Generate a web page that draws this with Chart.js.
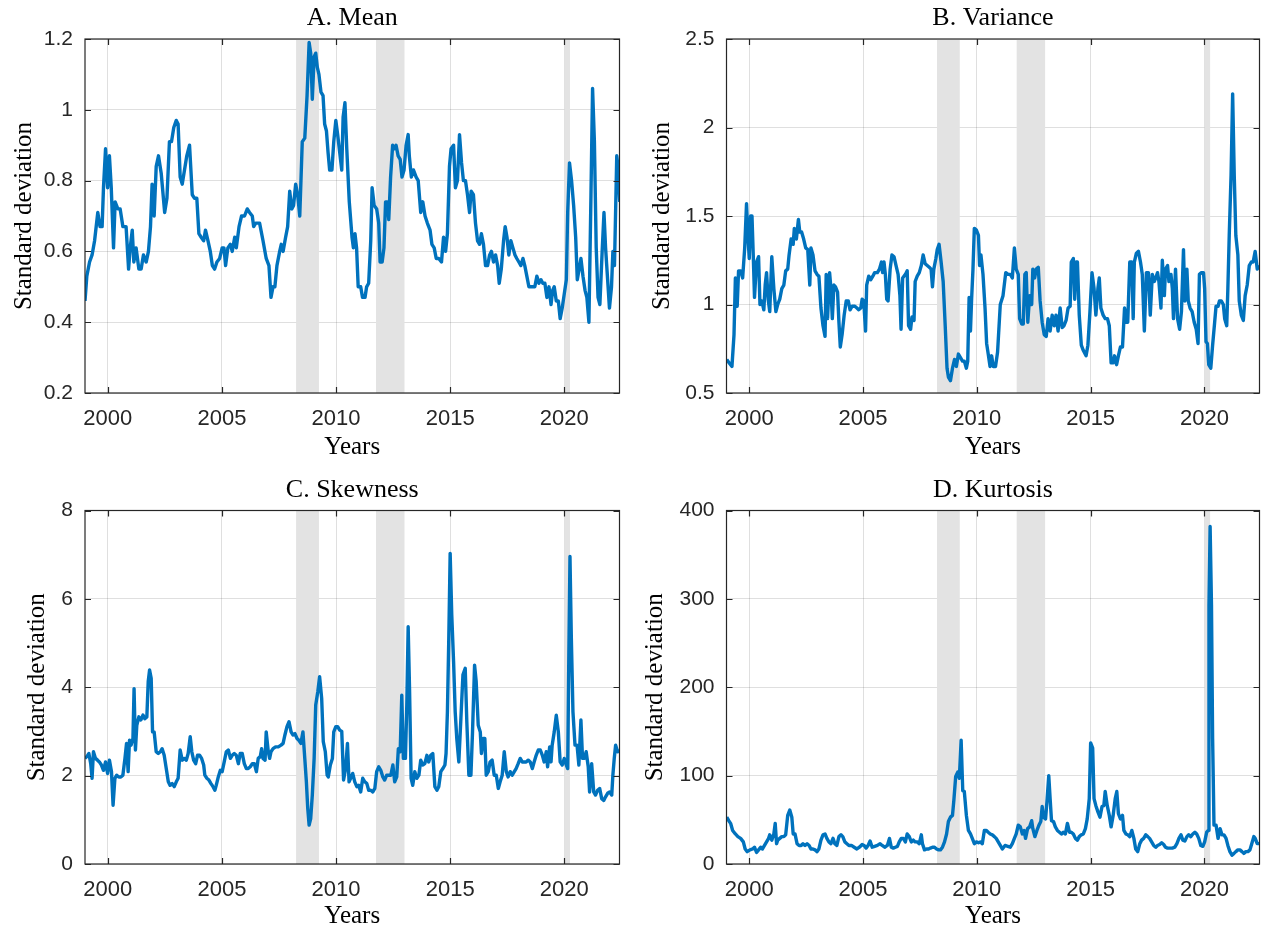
<!DOCTYPE html>
<html>
<head>
<meta charset="utf-8">
<title>Moments</title>
<script src="https://cdn.jsdelivr.net/npm/chart.js@4.4.1/dist/chart.umd.min.js"></script>
<style>
  body { margin: 0; background: #fff; }
  #fig { position: relative; width: 1261px; height: 932px; background: #fff; }
  #fig canvas { position: absolute; }
</style>
</head>
<body>
<div id="fig">
  <canvas id="chartA" width="630" height="466" style="left:0;top:0"></canvas>
  <canvas id="chartB" width="631" height="466" style="left:630px;top:0"></canvas>
  <canvas id="chartC" width="630" height="466" style="left:0;top:466px"></canvas>
  <canvas id="chartD" width="631" height="466" style="left:630px;top:466px"></canvas>
</div>
<script>
// shared axis data
const yearTicks = [2000, 2005, 2010, 2015, 2020];
const recessionStart = [2008.25, 2011.75, 2020.0];
const recessionEnd = [2009.25, 2013.0, 2020.25];

// A. Mean
const meanTicks = [0.2, 0.4, 0.6, 0.8, 1, 1.2];
const meanYears = [1999.0, 1999.08, 1999.2, 1999.31, 1999.42, 1999.56, 1999.66, 1999.75, 1999.81, 1999.9, 1999.99, 2000.07, 2000.15, 2000.25, 2000.32, 2000.44, 2000.54, 2000.66, 2000.8, 2000.91, 2000.98, 2001.07, 2001.14, 2001.24, 2001.36, 2001.46, 2001.56, 2001.68, 2001.78, 2001.87, 2001.94, 2002.03, 2002.12, 2002.22, 2002.34, 2002.49, 2002.59, 2002.7, 2002.79, 2002.89, 2003.0, 2003.08, 2003.17, 2003.26, 2003.36, 2003.46, 2003.58, 2003.7, 2003.8, 2003.9, 2003.99, 2004.09, 2004.2, 2004.28, 2004.39, 2004.49, 2004.58, 2004.68, 2004.78, 2004.9, 2005.01, 2005.09, 2005.16, 2005.26, 2005.37, 2005.45, 2005.56, 2005.63, 2005.75, 2005.86, 2005.99, 2006.11, 2006.21, 2006.33, 2006.39, 2006.48, 2006.65, 2006.8, 2006.94, 2007.06, 2007.15, 2007.24, 2007.32, 2007.41, 2007.53, 2007.6, 2007.68, 2007.79, 2007.88, 2007.97, 2008.06, 2008.14, 2008.23, 2008.32, 2008.41, 2008.52, 2008.63, 2008.73, 2008.82, 2008.89, 2008.96, 2009.04, 2009.11, 2009.18, 2009.25, 2009.34, 2009.43, 2009.5, 2009.58, 2009.65, 2009.72, 2009.82, 2009.9, 2009.99, 2010.07, 2010.16, 2010.25, 2010.31, 2010.39, 2010.47, 2010.58, 2010.7, 2010.76, 2010.83, 2010.9, 2010.97, 2011.08, 2011.16, 2011.27, 2011.34, 2011.43, 2011.52, 2011.58, 2011.67, 2011.78, 2011.87, 2011.93, 2012.02, 2012.1, 2012.17, 2012.25, 2012.31, 2012.39, 2012.48, 2012.56, 2012.63, 2012.72, 2012.81, 2012.89, 2012.98, 2013.07, 2013.16, 2013.21, 2013.3, 2013.39, 2013.51, 2013.6, 2013.71, 2013.8, 2013.9, 2014.0, 2014.12, 2014.2, 2014.3, 2014.39, 2014.5, 2014.62, 2014.71, 2014.8, 2014.88, 2014.97, 2015.04, 2015.15, 2015.23, 2015.32, 2015.41, 2015.5, 2015.58, 2015.67, 2015.76, 2015.85, 2015.92, 2016.02, 2016.11, 2016.2, 2016.29, 2016.37, 2016.46, 2016.55, 2016.64, 2016.73, 2016.81, 2016.9, 2016.99, 2017.08, 2017.15, 2017.24, 2017.34, 2017.41, 2017.49, 2017.57, 2017.66, 2017.75, 2017.84, 2017.92, 2018.01, 2018.1, 2018.19, 2018.27, 2018.36, 2018.45, 2018.54, 2018.63, 2018.71, 2018.8, 2018.89, 2018.98, 2019.06, 2019.15, 2019.24, 2019.33, 2019.42, 2019.49, 2019.56, 2019.65, 2019.74, 2019.82, 2019.91, 2020.0, 2020.09, 2020.15, 2020.23, 2020.32, 2020.41, 2020.5, 2020.57, 2020.65, 2020.73, 2020.82, 2020.91, 2020.99, 2021.08, 2021.17, 2021.24, 2021.32, 2021.4, 2021.48, 2021.56, 2021.66, 2021.74, 2021.81, 2021.9, 2021.98, 2022.07, 2022.13, 2022.2, 2022.3, 2022.37, 2022.43];
const meanValues = [0.46, 0.53, 0.57, 0.59, 0.63, 0.71, 0.67, 0.67, 0.78, 0.89, 0.78, 0.87, 0.78, 0.61, 0.74, 0.72, 0.72, 0.67, 0.67, 0.55, 0.61, 0.66, 0.57, 0.61, 0.55, 0.55, 0.59, 0.57, 0.6, 0.67, 0.79, 0.7, 0.84, 0.87, 0.82, 0.71, 0.75, 0.91, 0.91, 0.95, 0.97, 0.96, 0.81, 0.79, 0.83, 0.87, 0.9, 0.76, 0.75, 0.75, 0.65, 0.64, 0.63, 0.66, 0.63, 0.6, 0.56, 0.55, 0.57, 0.58, 0.61, 0.61, 0.56, 0.61, 0.62, 0.6, 0.64, 0.61, 0.67, 0.7, 0.7, 0.72, 0.71, 0.7, 0.67, 0.68, 0.68, 0.63, 0.58, 0.56, 0.47, 0.5, 0.5, 0.56, 0.6, 0.62, 0.6, 0.64, 0.67, 0.77, 0.72, 0.73, 0.79, 0.76, 0.7, 0.91, 0.92, 1.04, 1.19, 1.16, 1.03, 1.15, 1.16, 1.12, 1.1, 1.05, 1.04, 0.96, 0.94, 0.88, 0.83, 0.83, 0.91, 0.97, 0.93, 0.88, 0.83, 0.98, 1.02, 0.89, 0.74, 0.64, 0.61, 0.65, 0.61, 0.5, 0.5, 0.47, 0.47, 0.5, 0.51, 0.63, 0.78, 0.73, 0.72, 0.68, 0.57, 0.57, 0.61, 0.74, 0.74, 0.69, 0.81, 0.9, 0.89, 0.9, 0.87, 0.86, 0.81, 0.83, 0.9, 0.93, 0.87, 0.81, 0.83, 0.81, 0.8, 0.71, 0.74, 0.7, 0.68, 0.66, 0.62, 0.61, 0.58, 0.58, 0.57, 0.64, 0.6, 0.65, 0.84, 0.89, 0.9, 0.78, 0.8, 0.93, 0.85, 0.8, 0.8, 0.76, 0.71, 0.77, 0.76, 0.68, 0.63, 0.62, 0.65, 0.62, 0.56, 0.56, 0.59, 0.6, 0.57, 0.59, 0.56, 0.51, 0.55, 0.63, 0.67, 0.64, 0.59, 0.63, 0.61, 0.59, 0.58, 0.57, 0.56, 0.58, 0.56, 0.53, 0.5, 0.5, 0.5, 0.5, 0.53, 0.51, 0.52, 0.51, 0.51, 0.47, 0.5, 0.45, 0.49, 0.5, 0.46, 0.46, 0.41, 0.44, 0.48, 0.52, 0.71, 0.85, 0.8, 0.73, 0.64, 0.52, 0.55, 0.58, 0.53, 0.49, 0.47, 0.4, 0.76, 1.06, 0.91, 0.61, 0.47, 0.45, 0.6, 0.71, 0.61, 0.52, 0.44, 0.5, 0.6, 0.56, 0.87, 0.83, 0.74];

// B. Variance
const varianceTicks = [0.5, 1, 1.5, 2, 2.5];
const varianceYears = [1999.01, 1999.12, 1999.24, 1999.33, 1999.39, 1999.47, 1999.53, 1999.62, 1999.71, 1999.8, 1999.88, 1999.94, 2000.0, 2000.06, 2000.12, 2000.18, 2000.23, 2000.32, 2000.41, 2000.47, 2000.55, 2000.64, 2000.7, 2000.76, 2000.83, 2000.9, 2000.99, 2001.08, 2001.17, 2001.25, 2001.34, 2001.43, 2001.52, 2001.6, 2001.69, 2001.75, 2001.84, 2001.93, 2001.98, 2002.07, 2002.16, 2002.22, 2002.3, 2002.39, 2002.48, 2002.57, 2002.66, 2002.71, 2002.8, 2002.89, 2002.98, 2003.06, 2003.15, 2003.24, 2003.33, 2003.38, 2003.44, 2003.53, 2003.59, 2003.65, 2003.72, 2003.79, 2003.88, 2003.94, 2004.0, 2004.08, 2004.17, 2004.26, 2004.35, 2004.43, 2004.52, 2004.64, 2004.73, 2004.81, 2004.9, 2004.96, 2005.03, 2005.11, 2005.16, 2005.25, 2005.34, 2005.43, 2005.51, 2005.63, 2005.72, 2005.81, 2005.86, 2005.92, 2005.98, 2006.04, 2006.1, 2006.19, 2006.27, 2006.36, 2006.45, 2006.54, 2006.62, 2006.67, 2006.74, 2006.86, 2006.94, 2007.0, 2007.09, 2007.15, 2007.24, 2007.29, 2007.38, 2007.47, 2007.56, 2007.64, 2007.73, 2007.82, 2007.91, 2007.99, 2008.05, 2008.11, 2008.2, 2008.26, 2008.34, 2008.43, 2008.52, 2008.61, 2008.69, 2008.75, 2008.84, 2008.93, 2009.02, 2009.1, 2009.19, 2009.28, 2009.37, 2009.45, 2009.54, 2009.6, 2009.66, 2009.72, 2009.77, 2009.83, 2009.89, 2009.98, 2010.07, 2010.12, 2010.18, 2010.27, 2010.36, 2010.43, 2010.5, 2010.58, 2010.65, 2010.72, 2010.82, 2010.91, 2011.03, 2011.15, 2011.27, 2011.37, 2011.47, 2011.56, 2011.65, 2011.73, 2011.82, 2011.88, 2011.97, 2012.04, 2012.11, 2012.17, 2012.24, 2012.32, 2012.41, 2012.46, 2012.54, 2012.61, 2012.7, 2012.78, 2012.87, 2012.96, 2013.05, 2013.13, 2013.22, 2013.31, 2013.4, 2013.48, 2013.57, 2013.66, 2013.75, 2013.83, 2013.92, 2014.01, 2014.1, 2014.15, 2014.24, 2014.3, 2014.36, 2014.42, 2014.5, 2014.59, 2014.68, 2014.8, 2014.88, 2014.97, 2015.06, 2015.15, 2015.23, 2015.32, 2015.38, 2015.45, 2015.55, 2015.64, 2015.74, 2015.82, 2015.9, 2015.99, 2016.05, 2016.14, 2016.22, 2016.31, 2016.4, 2016.49, 2016.57, 2016.63, 2016.72, 2016.81, 2016.87, 2016.92, 2017.01, 2017.1, 2017.19, 2017.27, 2017.36, 2017.45, 2017.54, 2017.62, 2017.71, 2017.8, 2017.86, 2017.94, 2018.0, 2018.09, 2018.15, 2018.24, 2018.29, 2018.38, 2018.44, 2018.53, 2018.59, 2018.64, 2018.73, 2018.82, 2018.91, 2018.99, 2019.08, 2019.14, 2019.23, 2019.29, 2019.37, 2019.46, 2019.55, 2019.64, 2019.72, 2019.78, 2019.87, 2019.96, 2020.01, 2020.07, 2020.13, 2020.19, 2020.28, 2020.36, 2020.45, 2020.51, 2020.6, 2020.66, 2020.74, 2020.83, 2020.89, 2020.98, 2021.03, 2021.09, 2021.17, 2021.24, 2021.31, 2021.38, 2021.47, 2021.53, 2021.62, 2021.71, 2021.79, 2021.88, 2021.97, 2022.06, 2022.14, 2022.23, 2022.32, 2022.42];
const varianceValues = [0.69, 0.67, 0.65, 0.83, 1.15, 0.99, 1.19, 1.19, 1.15, 1.32, 1.57, 1.39, 1.26, 1.5, 1.5, 1.26, 1.04, 1.24, 1.27, 1.0, 1.02, 0.97, 1.11, 1.18, 1.03, 0.96, 1.27, 1.09, 0.96, 1.0, 1.03, 1.09, 1.11, 1.19, 1.2, 1.28, 1.37, 1.34, 1.43, 1.37, 1.48, 1.41, 1.41, 1.37, 1.32, 1.31, 1.11, 1.32, 1.28, 1.19, 1.17, 1.16, 0.98, 0.88, 0.82, 1.17, 0.92, 1.18, 1.09, 0.92, 1.11, 1.1, 1.07, 0.9, 0.76, 0.83, 0.94, 1.02, 1.02, 0.97, 0.99, 0.99, 0.98, 0.97, 0.98, 1.03, 1.02, 0.85, 1.11, 1.16, 1.14, 1.16, 1.18, 1.18, 1.2, 1.24, 1.18, 1.24, 1.17, 1.03, 1.02, 1.2, 1.28, 1.27, 1.22, 1.17, 1.05, 0.86, 1.15, 1.17, 1.19, 0.88, 0.86, 0.93, 0.91, 1.13, 1.16, 1.18, 1.22, 1.28, 1.23, 1.22, 1.21, 1.2, 1.1, 1.2, 1.26, 1.31, 1.34, 1.24, 1.13, 0.88, 0.64, 0.59, 0.57, 0.64, 0.69, 0.65, 0.72, 0.7, 0.68, 0.68, 0.64, 0.68, 1.04, 0.85, 1.03, 1.2, 1.43, 1.42, 1.39, 1.22, 1.28, 1.17, 0.98, 0.78, 0.72, 0.65, 0.71, 0.65, 0.65, 0.73, 1.0, 1.05, 1.18, 1.17, 1.17, 1.15, 1.32, 1.2, 1.17, 0.92, 0.89, 0.89, 1.17, 1.18, 0.9, 1.05, 1.0, 1.2, 1.15, 1.2, 1.21, 1.02, 0.9, 0.83, 0.82, 0.92, 0.85, 0.94, 0.88, 0.94, 0.85, 0.98, 0.87, 0.88, 0.91, 0.98, 0.99, 1.24, 1.26, 1.03, 1.24, 1.24, 0.94, 0.77, 0.74, 0.71, 0.77, 0.96, 1.18, 1.09, 0.94, 1.09, 1.15, 0.98, 0.94, 0.92, 0.92, 0.88, 0.67, 0.67, 0.71, 0.66, 0.71, 0.76, 0.76, 0.98, 0.9, 0.9, 1.24, 1.24, 0.92, 1.24, 1.29, 1.3, 1.24, 1.17, 0.85, 1.18, 1.18, 0.94, 1.17, 1.13, 1.15, 1.18, 1.13, 0.98, 1.25, 1.05, 1.2, 1.22, 1.13, 1.17, 1.09, 0.92, 1.2, 0.92, 0.86, 0.96, 1.31, 1.02, 1.2, 1.02, 0.98, 0.96, 0.9, 0.86, 0.78, 1.17, 1.18, 1.18, 1.09, 0.79, 0.78, 0.66, 0.64, 0.77, 0.9, 0.99, 0.99, 1.02, 1.02, 1.0, 0.92, 0.88, 1.09, 1.39, 1.73, 2.19, 1.73, 1.39, 1.28, 1.02, 0.94, 0.91, 1.05, 1.11, 1.22, 1.24, 1.24, 1.3, 1.2, 1.22];

// C. Skewness
const skewTicks = [0, 2, 4, 6, 8];
const skewYears = [1999.0, 1999.08, 1999.17, 1999.25, 1999.31, 1999.37, 1999.46, 1999.55, 1999.63, 1999.72, 1999.81, 1999.9, 1999.99, 2000.07, 2000.16, 2000.23, 2000.31, 2000.39, 2000.48, 2000.57, 2000.66, 2000.75, 2000.82, 2000.89, 2000.95, 2001.02, 2001.1, 2001.15, 2001.21, 2001.27, 2001.36, 2001.45, 2001.54, 2001.62, 2001.71, 2001.77, 2001.83, 2001.9, 2001.96, 2002.03, 2002.12, 2002.21, 2002.3, 2002.38, 2002.47, 2002.56, 2002.65, 2002.73, 2002.82, 2002.91, 2003.0, 2003.08, 2003.17, 2003.26, 2003.35, 2003.44, 2003.52, 2003.61, 2003.68, 2003.76, 2003.85, 2003.93, 2004.02, 2004.11, 2004.2, 2004.25, 2004.34, 2004.43, 2004.52, 2004.61, 2004.69, 2004.75, 2004.84, 2004.93, 2005.01, 2005.1, 2005.19, 2005.28, 2005.37, 2005.45, 2005.54, 2005.63, 2005.72, 2005.8, 2005.89, 2005.98, 2006.07, 2006.15, 2006.24, 2006.33, 2006.42, 2006.51, 2006.59, 2006.68, 2006.74, 2006.8, 2006.89, 2006.94, 2007.03, 2007.09, 2007.15, 2007.24, 2007.35, 2007.47, 2007.59, 2007.68, 2007.76, 2007.85, 2007.94, 2008.03, 2008.11, 2008.2, 2008.29, 2008.37, 2008.46, 2008.55, 2008.63, 2008.7, 2008.76, 2008.82, 2008.89, 2008.96, 2009.04, 2009.11, 2009.2, 2009.28, 2009.37, 2009.44, 2009.53, 2009.61, 2009.66, 2009.75, 2009.84, 2009.9, 2009.99, 2010.07, 2010.16, 2010.25, 2010.33, 2010.42, 2010.5, 2010.57, 2010.64, 2010.73, 2010.82, 2010.91, 2010.99, 2011.08, 2011.17, 2011.26, 2011.35, 2011.43, 2011.52, 2011.61, 2011.7, 2011.78, 2011.87, 2011.96, 2012.05, 2012.13, 2012.22, 2012.31, 2012.4, 2012.49, 2012.57, 2012.66, 2012.73, 2012.81, 2012.88, 2012.95, 2013.04, 2013.1, 2013.16, 2013.22, 2013.29, 2013.36, 2013.45, 2013.54, 2013.63, 2013.71, 2013.8, 2013.89, 2013.98, 2014.06, 2014.15, 2014.24, 2014.33, 2014.42, 2014.5, 2014.59, 2014.68, 2014.77, 2014.82, 2014.88, 2014.94, 2015.0, 2015.07, 2015.15, 2015.22, 2015.29, 2015.38, 2015.47, 2015.56, 2015.66, 2015.73, 2015.82, 2015.91, 2015.98, 2016.07, 2016.14, 2016.23, 2016.32, 2016.37, 2016.46, 2016.52, 2016.58, 2016.67, 2016.75, 2016.84, 2016.93, 2017.02, 2017.11, 2017.19, 2017.28, 2017.37, 2017.46, 2017.54, 2017.63, 2017.72, 2017.81, 2017.89, 2017.98, 2018.07, 2018.16, 2018.25, 2018.33, 2018.42, 2018.51, 2018.6, 2018.68, 2018.77, 2018.86, 2018.95, 2019.04, 2019.12, 2019.21, 2019.27, 2019.36, 2019.42, 2019.47, 2019.56, 2019.65, 2019.74, 2019.82, 2019.91, 2020.0, 2020.09, 2020.15, 2020.2, 2020.25, 2020.31, 2020.38, 2020.47, 2020.56, 2020.64, 2020.73, 2020.8, 2020.88, 2020.96, 2021.05, 2021.11, 2021.2, 2021.29, 2021.37, 2021.46, 2021.55, 2021.64, 2021.73, 2021.81, 2021.9, 2021.99, 2022.08, 2022.13, 2022.19, 2022.25, 2022.34, 2022.42];
const skewValues = [2.39, 2.43, 2.5, 2.27, 1.94, 2.54, 2.39, 2.35, 2.31, 2.24, 2.12, 2.31, 2.05, 2.35, 2.09, 1.33, 1.94, 2.01, 1.97, 1.97, 2.01, 2.39, 2.73, 2.09, 2.8, 2.69, 2.84, 3.97, 2.58, 3.14, 3.33, 3.26, 3.37, 3.29, 3.33, 4.13, 4.39, 4.2, 2.99, 2.99, 2.54, 2.5, 2.54, 2.61, 2.46, 2.16, 1.86, 1.78, 1.82, 1.75, 1.86, 1.94, 2.58, 2.35, 2.39, 2.35, 2.5, 2.88, 2.54, 2.35, 2.27, 2.46, 2.46, 2.39, 2.24, 2.01, 1.94, 1.9, 1.82, 1.75, 1.67, 1.78, 1.97, 2.12, 2.09, 2.31, 2.54, 2.58, 2.39, 2.46, 2.5, 2.46, 2.27, 2.5, 2.5, 2.27, 2.16, 2.16, 2.2, 2.27, 2.27, 2.09, 2.39, 2.43, 2.61, 2.39, 2.35, 2.99, 2.54, 2.39, 2.54, 2.61, 2.65, 2.65, 2.69, 2.73, 2.92, 3.11, 3.22, 2.99, 2.92, 2.95, 2.84, 2.8, 2.73, 2.99, 2.39, 1.86, 1.26, 0.88, 1.03, 1.56, 2.39, 3.6, 3.9, 4.24, 3.75, 2.77, 2.54, 2.01, 1.97, 2.24, 2.39, 2.99, 3.11, 3.11, 3.03, 3.0, 1.9, 2.16, 2.73, 1.86, 1.94, 2.05, 1.86, 1.75, 1.78, 1.63, 1.94, 1.86, 1.82, 1.67, 1.67, 1.63, 1.71, 2.09, 2.2, 2.12, 1.97, 1.9, 2.01, 2.01, 2.01, 2.24, 1.86, 1.97, 2.61, 2.54, 3.82, 2.39, 2.39, 3.6, 5.37, 3.97, 1.94, 1.78, 2.09, 1.94, 2.01, 2.35, 2.24, 2.27, 2.46, 2.31, 2.46, 2.5, 1.75, 1.67, 1.75, 2.09, 2.16, 2.24, 2.5, 3.45, 5.11, 7.03, 5.64, 4.58, 3.45, 2.84, 2.31, 3.29, 4.28, 4.43, 3.22, 2.01, 2.01, 2.99, 4.5, 4.13, 3.14, 2.99, 2.5, 2.84, 2.84, 2.01, 2.09, 2.31, 2.35, 2.01, 2.01, 1.71, 1.86, 2.01, 2.54, 2.09, 1.97, 2.09, 2.01, 2.09, 2.16, 2.27, 2.39, 2.31, 2.31, 2.31, 2.35, 2.31, 2.16, 2.31, 2.46, 2.58, 2.58, 2.46, 2.31, 2.54, 2.2, 2.65, 2.31, 2.69, 2.99, 3.37, 2.99, 2.31, 2.24, 2.39, 2.24, 2.16, 4.73, 6.96, 5.11, 3.45, 2.69, 2.69, 2.24, 3.26, 2.39, 2.39, 2.54, 2.2, 1.63, 2.27, 1.63, 1.56, 1.67, 1.71, 1.48, 1.44, 1.52, 1.6, 1.63, 1.56, 2.01, 2.39, 2.69, 2.54, 2.58];

// D. Kurtosis
const kurtTicks = [0, 100, 200, 300, 400];
const kurtYears = [1999.01, 1999.1, 1999.18, 1999.27, 1999.39, 1999.5, 1999.62, 1999.74, 1999.82, 1999.91, 2000.03, 2000.15, 2000.23, 2000.32, 2000.41, 2000.5, 2000.58, 2000.67, 2000.76, 2000.85, 2000.9, 2000.99, 2001.08, 2001.14, 2001.2, 2001.25, 2001.34, 2001.43, 2001.52, 2001.6, 2001.69, 2001.78, 2001.87, 2001.93, 2002.01, 2002.1, 2002.19, 2002.28, 2002.36, 2002.45, 2002.54, 2002.63, 2002.71, 2002.8, 2002.89, 2002.98, 2003.06, 2003.15, 2003.24, 2003.33, 2003.41, 2003.5, 2003.59, 2003.68, 2003.76, 2003.85, 2003.94, 2004.03, 2004.11, 2004.2, 2004.29, 2004.38, 2004.49, 2004.61, 2004.73, 2004.84, 2004.96, 2005.05, 2005.13, 2005.22, 2005.31, 2005.4, 2005.51, 2005.63, 2005.75, 2005.84, 2005.95, 2006.07, 2006.16, 2006.24, 2006.33, 2006.42, 2006.51, 2006.59, 2006.68, 2006.77, 2006.86, 2006.94, 2007.03, 2007.12, 2007.21, 2007.29, 2007.38, 2007.47, 2007.56, 2007.61, 2007.7, 2007.79, 2007.88, 2007.96, 2008.05, 2008.14, 2008.23, 2008.32, 2008.4, 2008.49, 2008.58, 2008.67, 2008.75, 2008.84, 2008.93, 2008.99, 2009.07, 2009.16, 2009.23, 2009.31, 2009.38, 2009.45, 2009.54, 2009.63, 2009.72, 2009.8, 2009.89, 2009.98, 2010.07, 2010.15, 2010.24, 2010.33, 2010.42, 2010.5, 2010.59, 2010.68, 2010.77, 2010.85, 2010.94, 2011.03, 2011.12, 2011.24, 2011.36, 2011.47, 2011.56, 2011.65, 2011.73, 2011.82, 2011.91, 2012.0, 2012.08, 2012.14, 2012.23, 2012.32, 2012.41, 2012.46, 2012.55, 2012.64, 2012.73, 2012.81, 2012.87, 2012.93, 2013.02, 2013.09, 2013.16, 2013.22, 2013.28, 2013.37, 2013.45, 2013.54, 2013.63, 2013.72, 2013.8, 2013.89, 2013.98, 2014.07, 2014.15, 2014.24, 2014.33, 2014.42, 2014.5, 2014.59, 2014.68, 2014.77, 2014.85, 2014.94, 2015.0, 2015.09, 2015.15, 2015.23, 2015.32, 2015.41, 2015.5, 2015.58, 2015.64, 2015.73, 2015.82, 2015.9, 2015.99, 2016.08, 2016.15, 2016.22, 2016.31, 2016.4, 2016.46, 2016.55, 2016.63, 2016.72, 2016.81, 2016.9, 2016.98, 2017.07, 2017.16, 2017.24, 2017.33, 2017.42, 2017.51, 2017.59, 2017.68, 2017.77, 2017.86, 2017.94, 2018.03, 2018.12, 2018.21, 2018.29, 2018.38, 2018.47, 2018.59, 2018.7, 2018.79, 2018.88, 2018.97, 2019.05, 2019.14, 2019.23, 2019.31, 2019.4, 2019.49, 2019.58, 2019.66, 2019.75, 2019.84, 2019.93, 2020.01, 2020.1, 2020.17, 2020.2, 2020.25, 2020.31, 2020.36, 2020.42, 2020.51, 2020.6, 2020.69, 2020.77, 2020.86, 2020.95, 2021.03, 2021.12, 2021.21, 2021.3, 2021.38, 2021.47, 2021.56, 2021.65, 2021.73, 2021.82, 2021.91, 2022.0, 2022.08, 2022.17, 2022.23, 2022.32, 2022.42];
const kurtValues = [53, 49, 46, 38, 34, 31, 29, 25, 17, 14, 16, 17, 19, 13, 16, 19, 17, 21, 25, 29, 33, 27, 34, 46, 23, 27, 29, 31, 31, 33, 55, 61, 53, 34, 34, 23, 21, 21, 23, 21, 23, 21, 17, 17, 16, 14, 17, 27, 33, 34, 29, 25, 23, 29, 23, 21, 31, 33, 31, 25, 23, 21, 21, 19, 17, 19, 22, 21, 18, 21, 26, 19, 20, 21, 23, 21, 19, 21, 29, 19, 18, 19, 20, 25, 29, 29, 25, 34, 31, 25, 27, 25, 25, 23, 33, 23, 16, 17, 17, 18, 19, 19, 17, 16, 16, 19, 25, 34, 48, 53, 55, 72, 99, 104, 97, 140, 83, 82, 55, 38, 34, 29, 23, 25, 24, 25, 23, 38, 38, 36, 34, 33, 31, 29, 25, 21, 17, 21, 20, 19, 23, 29, 34, 44, 42, 34, 38, 29, 40, 42, 49, 40, 31, 38, 44, 48, 65, 53, 51, 74, 100, 74, 49, 48, 42, 38, 36, 34, 36, 34, 46, 36, 36, 34, 29, 27, 31, 33, 34, 40, 51, 74, 137, 131, 74, 66, 59, 53, 65, 66, 82, 66, 55, 42, 55, 74, 82, 57, 51, 55, 38, 34, 33, 31, 38, 29, 17, 14, 23, 27, 29, 33, 31, 29, 25, 21, 19, 21, 22, 24, 22, 19, 18, 18, 18, 19, 23, 29, 33, 27, 26, 31, 33, 31, 34, 36, 34, 29, 21, 20, 25, 36, 38, 293, 382, 293, 142, 44, 44, 29, 40, 33, 33, 29, 21, 14, 10, 12, 14, 16, 16, 14, 12, 14, 14, 16, 23, 31, 29, 23, 23];

const lineColor = '#0072BD';
const axisColor = '#262626';
const serif = '"Liberation Serif", "Times New Roman", serif';
const sans = '"Liberation Sans", Arial, Helvetica, sans-serif';

// grey recession bars behind the line
const recessionBands = {
  id: 'recessionBands',
  beforeDatasetsDraw(chart) {
    const { ctx, chartArea, scales } = chart;
    ctx.save();
    ctx.fillStyle = '#e3e3e3';
    recessionStart.forEach((start, i) => {
      const x1 = Math.max(scales.x.getPixelForValue(start), chartArea.left);
      const x2 = Math.min(scales.x.getPixelForValue(recessionEnd[i]), chartArea.right);
      ctx.fillRect(x1, chartArea.top, x2 - x1, chartArea.bottom - chartArea.top);
    });
    ctx.restore();
  }
};

// matlab style box with inward tick marks on all four sides
const axesBox = {
  id: 'axesBox',
  afterDatasetsDraw(chart) {
    const { ctx, chartArea: a, scales } = chart;
    const len = 6;
    ctx.save();
    ctx.strokeStyle = axisColor;
    ctx.lineWidth = 1.2;
    ctx.beginPath();
    scales.x.ticks.forEach(t => {
      const px = Math.round(scales.x.getPixelForValue(t.value)) + 0.5;
      ctx.moveTo(px, a.bottom); ctx.lineTo(px, a.bottom - len);
      ctx.moveTo(px, a.top); ctx.lineTo(px, a.top + len);
    });
    scales.y.ticks.forEach(t => {
      const py = Math.round(scales.y.getPixelForValue(t.value)) + 0.5;
      ctx.moveTo(a.left, py); ctx.lineTo(a.left + len, py);
      ctx.moveTo(a.right, py); ctx.lineTo(a.right - len, py);
    });
    ctx.stroke();
    ctx.strokeRect(a.left, a.top, a.right - a.left, a.bottom - a.top);
    ctx.restore();
  }
};

function makePanel(canvasId, p) {
  const points = p.years.map((x, i) => ({ x: x, y: p.values[i] }));
  return new Chart(document.getElementById(canvasId), {
    type: 'line',
    data: {
      datasets: [{
        data: points,
        borderColor: lineColor,
        borderWidth: 3.4,
        pointRadius: 0,
        tension: 0,
        borderJoinStyle: 'round'
      }]
    },
    options: {
      responsive: false,
      animation: false,
      events: [],
      layout: { padding: { left: 0, right: p.padRight, top: 0, bottom: 0 } },
      plugins: {
        legend: { display: false },
        tooltip: { enabled: false },
        title: {
          display: true,
          text: p.title,
          fullSize: false,
          color: '#000',
          font: { family: serif, size: 26, weight: 'normal', lineHeight: 1.2 },
          padding: { top: p.titleTop, bottom: p.titleBottom }
        }
      },
      scales: {
        x: {
          type: 'linear',
          min: 1999,
          max: 2022.42,
          afterBuildTicks: s => { s.ticks = yearTicks.map(v => ({ value: v })); },
          afterFit: s => { s.height = p.xAxisHeight; },
          grid: { color: 'rgba(38,38,38,0.15)', lineWidth: 1, drawTicks: false },
          border: { display: false },
          ticks: {
            autoSkip: false,
            maxRotation: 0,
            padding: 13,
            color: axisColor,
            font: { family: sans, size: 22 },
            callback: v => String(v)
          },
          title: {
            display: true,
            text: 'Years',
            color: '#000',
            font: { family: serif, size: 25, lineHeight: 1.2 },
            padding: { top: 0, bottom: p.xTitleBottom }
          }
        },
        y: {
          min: p.yMin,
          max: p.yMax,
          afterBuildTicks: s => { s.ticks = p.yTicks.map(v => ({ value: v })); },
          afterFit: s => { s.width = p.yAxisWidth; },
          grid: { color: 'rgba(38,38,38,0.15)', lineWidth: 1, drawTicks: false },
          border: { display: false },
          ticks: {
            autoSkip: false,
            padding: 12,
            color: axisColor,
            font: { family: sans, size: 21 },
            callback: v => String(v)
          },
          title: {
            display: true,
            text: 'Standard deviation',
            color: '#000',
            font: { family: serif, size: 25, lineHeight: 1.2 },
            padding: { top: p.yTitleOffset, bottom: 0 }
          }
        }
      }
    },
    plugins: [recessionBands, axesBox]
  });
}

makePanel('chartA', {
  title: 'A. Mean', years: meanYears, values: meanValues,
  yMin: 0.2, yMax: 1.2, yTicks: meanTicks,
  yAxisWidth: 85, padRight: 10.5, xAxisHeight: 73,
  titleTop: 3, titleBottom: 4.8, xTitleBottom: 3.5, yTitleOffset: 9
});
makePanel('chartB', {
  title: 'B. Variance', years: varianceYears, values: varianceValues,
  yMin: 0.5, yMax: 2.5, yTicks: varianceTicks,
  yAxisWidth: 96.5, padRight: 1.5, xAxisHeight: 73,
  titleTop: 3, titleBottom: 4.8, xTitleBottom: 3.5, yTitleOffset: 17
});
makePanel('chartC', {
  title: 'C. Skewness', years: skewYears, values: skewValues,
  yMin: 0, yMax: 8, yTicks: skewTicks,
  yAxisWidth: 85, padRight: 10.5, xAxisHeight: 68,
  titleTop: 8.4, titleBottom: 4.9, xTitleBottom: 1, yTitleOffset: 22.5
});
makePanel('chartD', {
  title: 'D. Kurtosis', years: kurtYears, values: kurtValues,
  yMin: 0, yMax: 400, yTicks: kurtTicks,
  yAxisWidth: 96.5, padRight: 1.5, xAxisHeight: 68,
  titleTop: 8.4, titleBottom: 4.9, xTitleBottom: 1, yTitleOffset: 10
});
</script>
</body>
</html>
